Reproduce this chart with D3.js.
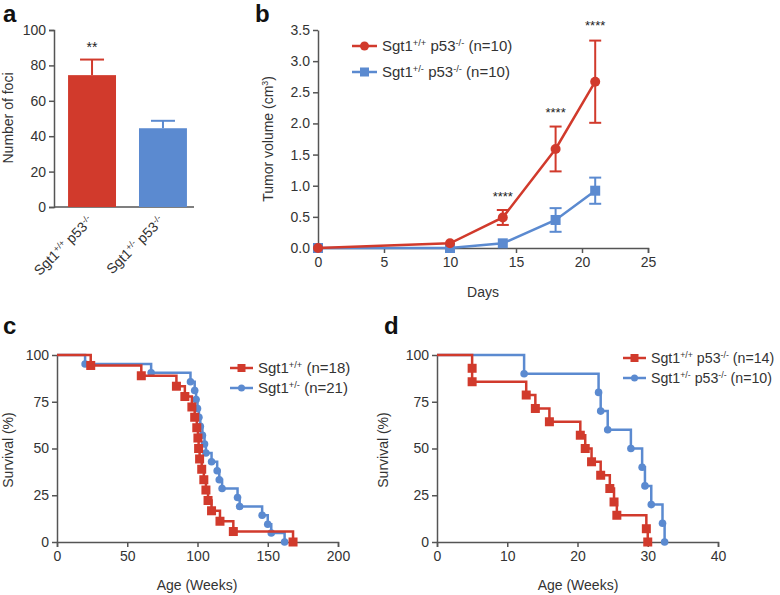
<!DOCTYPE html>
<html lang="en">
<head>
<meta charset="UTF-8">
<title>Sgt1 figure</title>
<style>
  body { margin: 0; background: #fff; }
  svg { display: block; font-family: "Liberation Sans", Arial, sans-serif; }
  .axis path, .axis line { stroke: #555; stroke-width: 1.5px; }
  .axis text { fill: #333; font-size: 14px; }
  .title { fill: #333; font-size: 14px; }
  .legend { fill: #333; }
  .panel { font-weight: bold; font-size: 24px; fill: #111; }
</style>
<script src="https://d3js.org/d3.v7.min.js"></script>
</head>
<body>
<svg id="fig" width="780" height="595"></svg>
<script>
const RED = "#d13a2c", BLUE = "#5b8ad0";

// panel a
const fociGroups = ["wt", "het"];
const fociMean = [74.5, 44.5];
const fociErr = [8.8, 4.2];
const fociTicks = [0, 20, 40, 60, 80, 100];

// panel b
const days = [0, 10, 14, 18, 21];
const volWT = [0, 0.075, 0.49, 1.59, 2.67];
const volWTErr = [0, 0.02, 0.12, 0.36, 0.66];
const volHet = [0, 0, 0.075, 0.45, 0.92];
const volHetErr = [0, 0, 0.03, 0.19, 0.21];
const starDays = [14, 18, 21];
const starTops = [0.75, 2.1, 3.5];

// panel c (weeks, survival %)
const cWTTime = [0, 24, 60, 85, 91, 96, 98, 99.5, 100.3, 100.8, 101.5, 103, 104.5, 106, 107.5, 110, 116, 125.5, 168];
const cWTSurv = [100, 94.4, 88.9, 83.3, 77.8, 72.2, 66.7, 61.1, 55.6, 50, 44.4, 38.9, 33.3, 27.8, 22.2, 16.7, 11.1, 5.6, 0];
const cHetTime = [0, 20, 67, 95, 98, 99, 100, 101, 102, 103.5, 105, 106, 110, 114, 115.5, 117.5, 128.5, 130, 146, 150, 152.5, 162];
const cHetSurv = [100, 95.2, 90.5, 85.7, 81.0, 76.2, 71.4, 66.7, 61.9, 57.1, 52.4, 47.6, 42.9, 38.1, 33.3, 28.6, 23.8, 19.0, 14.3, 9.5, 4.8, 0];

// panel d
const dWTTime = [0, 5, 5, 12.7, 14, 16, 20.4, 21.1, 22, 23.3, 24.6, 25.2, 25.6, 29.8, 30];
const dWTSurv = [100, 92.9, 85.7, 78.6, 71.4, 64.3, 57.1, 50, 42.9, 35.7, 28.6, 21.4, 14.3, 7.1, 0];
const dHetTime = [0, 12.4, 23, 23.3, 24.3, 27.6, 29.2, 29.6, 30.5, 32.1, 32.4];
const dHetSurv = [100, 90, 80, 70, 60, 50, 40, 30, 20, 10, 0];

const svg = d3.select("#fig");

// text with superscripts: parts = [[text, isSup], ...]
function richText(sel, parts, size) {
  sel.attr("font-size", size);
  parts.forEach(p => {
    const t = sel.append("tspan").text(p[0]);
    if (p[1]) t.attr("baseline-shift", "super").attr("font-size", size * 0.62);
  });
  return sel;
}
const lblWT = [["Sgt1", 0], ["+/+", 1], [" p53", 0], ["-/-", 1]];
const lblHet = [["Sgt1", 0], ["+/-", 1], [" p53", 0], ["-/-", 1]];

function panelLabel(x, y, s) {
  svg.append("text").attr("class", "panel").attr("x", x).attr("y", y).text(s);
}
function yTitle(x, y, s) {
  return svg.append("text").attr("class", "title").attr("text-anchor", "middle")
    .attr("transform", `translate(${x},${y}) rotate(-90)`).text(s);
}
function xTitle(x, y, s) {
  svg.append("text").attr("class", "title").attr("text-anchor", "middle")
    .attr("x", x).attr("y", y).text(s);
}

// ---------- a ----------
panelLabel(3, 22, "a");
const ax = d3.scaleBand().domain(fociGroups).range([56, 199]).paddingInner(0.324).paddingOuter(0.17);
const ay = d3.scaleLinear().domain([0, 100]).range([207, 30]);
svg.append("g").attr("class", "axis").attr("transform", "translate(54,0)")
  .call(d3.axisLeft(ay).tickValues(fociTicks).tickSize(5).tickPadding(3));
svg.append("line").attr("x1", 54).attr("x2", 194).attr("y1", ay(0)).attr("y2", ay(0))
  .attr("stroke", "#555").attr("stroke-width", 1.5);
const aCol = [RED, BLUE];
fociGroups.forEach((g, i) => {
  const cx = ax(g) + ax.bandwidth() / 2;
  svg.append("line").attr("x1", cx).attr("x2", cx).attr("y1", ay(fociMean[i])).attr("y2", ay(fociMean[i] + fociErr[i]))
    .attr("stroke", aCol[i]).attr("stroke-width", 2);
  svg.append("line").attr("x1", cx - 12).attr("x2", cx + 12)
    .attr("y1", ay(fociMean[i] + fociErr[i])).attr("y2", ay(fociMean[i] + fociErr[i]))
    .attr("stroke", aCol[i]).attr("stroke-width", 2);
  svg.append("rect").attr("x", ax(g)).attr("width", ax.bandwidth())
    .attr("y", ay(fociMean[i])).attr("height", ay(0) - ay(fociMean[i])).attr("fill", aCol[i]);
  const t = svg.append("text").attr("class", "title").attr("text-anchor", "end")
    .attr("transform", `translate(${cx + 2},${ay(0) + 15}) rotate(-45)`);
  richText(t, i === 0 ? lblWT : lblHet, 14);
});
svg.append("text").attr("x", ax("wt") + ax.bandwidth() / 2).attr("y", 52).attr("text-anchor", "middle")
  .attr("font-size", 14).attr("fill", "#222").text("**");
yTitle(13, 118, "Number of foci");

// ---------- b ----------
panelLabel(255, 22, "b");
const bx = d3.scaleLinear().domain([0, 25]).range([318, 648]);
const by = d3.scaleLinear().domain([0, 3.5]).range([248, 30]);
svg.append("g").attr("class", "axis").attr("transform", "translate(0,248)")
  .call(d3.axisBottom(bx).ticks(5).tickSize(5).tickSizeOuter(5).tickPadding(4));
svg.append("g").attr("class", "axis").attr("transform", "translate(318,0)")
  .call(d3.axisLeft(by).ticks(7).tickFormat(d3.format(".1f")).tickSize(5).tickSizeOuter(0).tickPadding(3));

function growth(vals, errs, color, square) {
  const pts = days.map((d, i) => [bx(d), by(vals[i])]);
  svg.append("path").attr("d", d3.line()(pts)).attr("fill", "none").attr("stroke", color).attr("stroke-width", 2.5);
  days.forEach((d, i) => {
    if (errs[i] > 0.05) {
      const x = bx(d), y1 = by(vals[i] - errs[i]), y2 = by(vals[i] + errs[i]);
      svg.append("line").attr("x1", x).attr("x2", x).attr("y1", y1).attr("y2", y2).attr("stroke", color).attr("stroke-width", 2);
      [y1, y2].forEach(y => svg.append("line").attr("x1", x - 6).attr("x2", x + 6).attr("y1", y).attr("y2", y)
        .attr("stroke", color).attr("stroke-width", 2));
    }
    if (square) svg.append("rect").attr("x", bx(d) - 5).attr("y", by(vals[i]) - 5).attr("width", 10).attr("height", 10).attr("fill", color);
    else svg.append("circle").attr("cx", bx(d)).attr("cy", by(vals[i])).attr("r", 5).attr("fill", color);
  });
}
growth(volHet, volHetErr, BLUE, true);
growth(volWT, volWTErr, RED, false);
starDays.forEach((d, i) => {
  svg.append("text").attr("x", bx(d)).attr("y", by(starTops[i])).attr("text-anchor", "middle")
    .attr("font-size", 13).attr("fill", "#222").text("****");
});
yTitle(273, 139, "").call(t => richText(t, [["Tumor volume (cm", 0], ["3", 1], [")", 0]], 14));
xTitle(483, 297, "Days");

// legend b
[[lblWT, RED, false, 46], [lblHet, BLUE, true, 72]].forEach(([lbl, c, sq, y]) => {
  svg.append("line").attr("x1", 352).attr("x2", 377).attr("y1", y).attr("y2", y).attr("stroke", c).attr("stroke-width", 2.5);
  if (sq) svg.append("rect").attr("x", 360).attr("y", y - 4.5).attr("width", 9).attr("height", 9).attr("fill", c);
  else svg.append("circle").attr("cx", 364.5).attr("cy", y).attr("r", 4.5).attr("fill", c);
  const t = svg.append("text").attr("class", "legend").attr("x", 382).attr("y", y + 5);
  richText(t, lbl.concat([[" (n=10)", 0]]), 15);
});

// ---------- survival panels ----------
function survival(x0, x1, domainMax, ticks, curves, legend, lx, ly, fs) {
  const sx = d3.scaleLinear().domain([0, domainMax]).range([x0, x1]);
  const sy = d3.scaleLinear().domain([0, 100]).range([542, 355]);
  svg.append("g").attr("class", "axis").attr("transform", "translate(0,542)")
    .call(d3.axisBottom(sx).ticks(ticks).tickSize(5).tickSizeOuter(5).tickPadding(4));
  svg.append("g").attr("class", "axis").attr("transform", `translate(${x0},0)`)
    .call(d3.axisLeft(sy).tickValues([0, 25, 50, 75, 100]).tickSize(5).tickSizeOuter(0).tickPadding(3));
  curves.forEach(([times, surv, color, square]) => {
    const pts = times.map((t, i) => [sx(t), sy(surv[i])]);
    svg.append("path").attr("d", d3.line().curve(d3.curveStepAfter)(pts))
      .attr("fill", "none").attr("stroke", color).attr("stroke-width", 2.5);
    pts.slice(1).forEach(p => {
      if (square) svg.append("rect").attr("x", p[0] - 4.5).attr("y", p[1] - 4.5).attr("width", 9).attr("height", 9).attr("fill", color);
      else svg.append("circle").attr("cx", p[0]).attr("cy", p[1]).attr("r", 3.8).attr("fill", color);
    });
  });
  legend.forEach(([lbl, color, square], i) => {
    const y = ly + i * 20;
    svg.append("line").attr("x1", lx).attr("x2", lx + 23).attr("y1", y).attr("y2", y).attr("stroke", color).attr("stroke-width", 2.5);
    if (square) svg.append("rect").attr("x", lx + 7.5).attr("y", y - 4).attr("width", 8).attr("height", 8).attr("fill", color);
    else svg.append("circle").attr("cx", lx + 11.5).attr("cy", y).attr("r", 3.5).attr("fill", color);
    const t = svg.append("text").attr("class", "legend").attr("x", lx + 28).attr("y", y + 5);
    richText(t, lbl, fs);
  });
}

panelLabel(3, 334, "c");
survival(57, 338, 200, 4,
  [[cHetTime, cHetSurv, BLUE, false], [cWTTime, cWTSurv, RED, true]],
  [[[["Sgt1", 0], ["+/+", 1], [" (n=18)", 0]], RED, true], [[["Sgt1", 0], ["+/-", 1], [" (n=21)", 0]], BLUE, false]],
  230, 368, 15);
yTitle(13, 450, "Survival (%)");
xTitle(197, 590, "Age (Weeks)");

panelLabel(384, 334, "d");
survival(437, 718, 40, 4,
  [[dHetTime, dHetSurv, BLUE, false], [dWTTime, dWTSurv, RED, true]],
  [[lblWT.concat([[" (n=14)", 0]]), RED, true], [lblHet.concat([[" (n=10)", 0]]), BLUE, false]],
  623, 358, 14.2);
yTitle(388, 450, "Survival (%)");
xTitle(578, 590, "Age (Weeks)");
</script>
</body>
</html>
